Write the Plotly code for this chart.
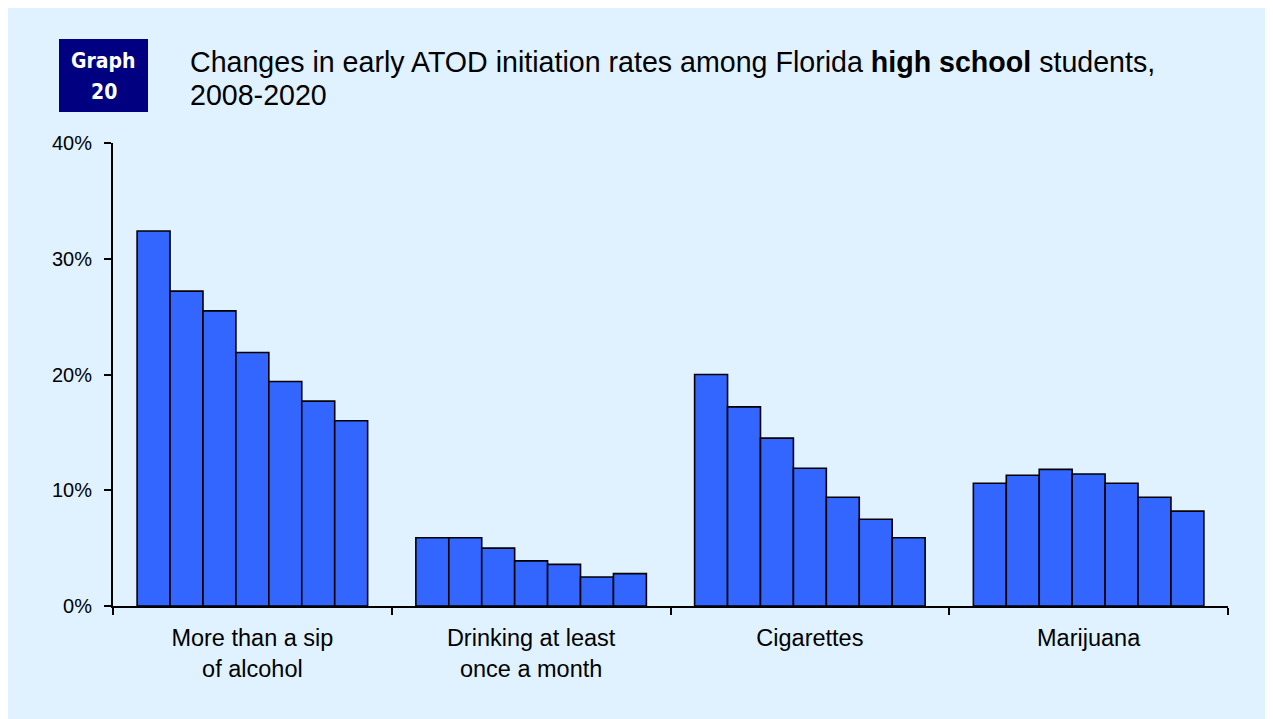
import plotly.graph_objects as go

categories = ["More than a sip<br>of alcohol", "Drinking at least<br>once a month", "Cigarettes", "Marijuana"]
years = ["2008", "2010", "2012", "2014", "2016", "2018", "2020"]
alcohol_sip = [32.4, 27.2, 25.5, 21.9, 19.4, 17.7, 16.0]
drinking_monthly = [5.9, 5.9, 5.0, 3.9, 3.6, 2.5, 2.8]
cigarettes = [20.0, 17.2, 14.5, 11.9, 9.4, 7.5, 5.9]
marijuana = [10.6, 11.3, 11.8, 11.4, 10.6, 9.4, 8.2]
y_ticks = [0, 10, 20, 30, 40]
y_tick_labels = [f"{v}%" for v in y_ticks]

# page is offset by the default 8px body margin
OFF = 8
W, H = 1273, 719
L, R, T, B = 113 - OFF, 53, 143 - OFF, 121
PW, PH = W - L - R, H - T - B

def px(x):
    return (x - OFF - L) / PW

def py(y):
    return (H - B - (y - OFF)) / PH

BG = "#E0F2FF"
BAR = "#3366FF"

fig = go.Figure()
series = [alcohol_sip, drinking_monthly, cigarettes, marijuana]
for i, yr in enumerate(years):
    fig.add_trace(go.Bar(
        x=categories,
        y=[s[i] for s in series],
        name=yr,
        marker=dict(color=BAR, line=dict(color="black", width=1.6)),
        showlegend=False,
    ))

badge_font = dict(family="Liberation Sans Narrow, DejaVu Sans Condensed, sans-serif", size=21, color="white")

fig.update_layout(
    width=W, height=H,
    margin=dict(l=L, r=R, t=T, b=B, pad=0),
    paper_bgcolor=BG, plot_bgcolor=BG,
    barmode="group", bargap=0.173, bargroupgap=0,
    font=dict(family="Liberation Sans, Arial, sans-serif", color="black"),
    xaxis=dict(
        type="category", showline=True, linecolor="black", linewidth=2,
        ticks="outside", tickson="boundaries", ticklen=7, tickwidth=1.5, tickcolor="black",
        tickfont=dict(size=23.5), showgrid=False, zeroline=False, ticklabelstandoff=10,
    ),
    yaxis=dict(
        range=[0, 40], tickmode="array", tickvals=y_ticks, ticktext=y_tick_labels,
        showline=True, linecolor="black", linewidth=2,
        ticks="outside", ticklen=7, tickwidth=1.5, tickcolor="black",
        tickfont=dict(size=20), showgrid=False, zeroline=False, ticklabelstandoff=8,
    ),
    shapes=[
        dict(type="rect", xref="paper", yref="paper", x0=px(59), x1=px(148), y0=py(112), y1=py(39),
             fillcolor="#000080", line=dict(width=0), layer="below"),
    ],
    annotations=[
        dict(text="<b>Graph</b>", xref="paper", yref="paper", x=px(103.5), y=py(61),
             xanchor="center", yanchor="middle", showarrow=False, font=badge_font),
        dict(text="<b>20</b>", xref="paper", yref="paper", x=px(103.5), y=py(92),
             xanchor="center", yanchor="middle", showarrow=False, font=badge_font),
        dict(text="Changes in early ATOD initiation rates among Florida <b>high school</b> students,",
             xref="paper", yref="paper", x=px(188), y=py(62), xanchor="left", yanchor="middle",
             showarrow=False, font=dict(size=28.6)),
        dict(text="2008-2020",
             xref="paper", yref="paper", x=px(188), y=py(95), xanchor="left", yanchor="middle",
             showarrow=False, font=dict(size=28.6)),
    ],
)

fig.write_html("out.html", config={"responsive": False})
